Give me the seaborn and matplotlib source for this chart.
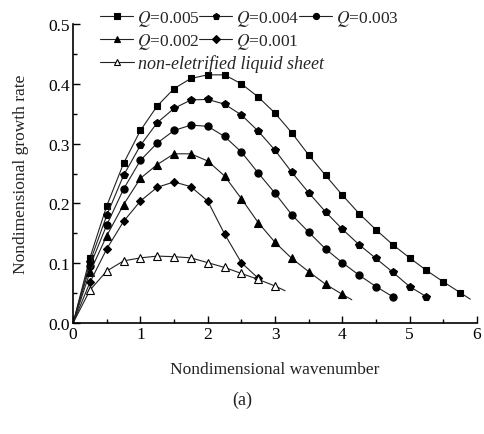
import numpy as np
import pandas as pd
import matplotlib
matplotlib.use("Agg")
import matplotlib.pyplot as plt
from matplotlib.lines import Line2D
from matplotlib.ticker import MultipleLocator, FuncFormatter
import seaborn as sns

# ---- data ----
x_q005 = [0, 0.25, 0.5, 0.75, 1.0, 1.25, 1.5, 1.75, 2.0, 2.25, 2.5, 2.75, 3.0, 3.25, 3.5, 3.75,
          4.0, 4.25, 4.5, 4.75, 5.0, 5.25, 5.5, 5.75, 5.9]
y_q005 = [0, 0.109, 0.196, 0.267, 0.322, 0.363, 0.392, 0.409, 0.415, 0.415, 0.400, 0.378, 0.351,
          0.318, 0.281, 0.247, 0.214, 0.183, 0.156, 0.131, 0.109, 0.088, 0.069, 0.051, 0.040]
x_q004 = [0, 0.25, 0.5, 0.75, 1.0, 1.25, 1.5, 1.75, 2.0, 2.25, 2.5, 2.75, 3.0, 3.25, 3.5, 3.75,
          4.0, 4.25, 4.5, 4.75, 5.0, 5.25]
y_q004 = [0, 0.102, 0.180, 0.247, 0.297, 0.335, 0.359, 0.373, 0.374, 0.366, 0.348, 0.321, 0.289,
          0.252, 0.218, 0.186, 0.157, 0.131, 0.108, 0.085, 0.061, 0.044]
x_q003 = [0, 0.25, 0.5, 0.75, 1.0, 1.25, 1.5, 1.75, 2.0, 2.25, 2.5, 2.75, 3.0, 3.25, 3.5, 3.75,
          4.0, 4.25, 4.5, 4.75]
y_q003 = [0, 0.095, 0.164, 0.224, 0.272, 0.301, 0.322, 0.331, 0.329, 0.312, 0.286, 0.251, 0.217,
          0.181, 0.152, 0.124, 0.101, 0.080, 0.061, 0.044]
x_q002 = [0, 0.25, 0.5, 0.75, 1.0, 1.25, 1.5, 1.75, 2.0, 2.25, 2.5, 2.75, 3.0, 3.25, 3.5, 3.75,
          4.0, 4.14]
y_q002 = [0, 0.085, 0.146, 0.198, 0.242, 0.265, 0.283, 0.283, 0.271, 0.246, 0.208, 0.168, 0.135,
          0.108, 0.086, 0.065, 0.048, 0.039]
x_q001 = [0, 0.25, 0.5, 0.75, 1.0, 1.25, 1.5, 1.75, 2.0, 2.25, 2.5, 2.75]
y_q001 = [0, 0.068, 0.124, 0.170, 0.204, 0.227, 0.236, 0.228, 0.204, 0.149, 0.101, 0.075]
x_none = [0, 0.25, 0.5, 0.75, 1.0, 1.25, 1.5, 1.75, 2.0, 2.25, 2.5, 2.75, 3.0, 3.15]
y_none = [0, 0.055, 0.087, 0.104, 0.109, 0.112, 0.111, 0.109, 0.101, 0.093, 0.083, 0.073, 0.062, 0.054]

labels = [r"$Q$=0.005", r"$Q$=0.004", r"$Q$=0.003", r"$Q$=0.002", r"$Q$=0.001",
          "non-eletrified liquid sheet"]
xlabel = "Nondimensional wavenumber"
ylabel = "Nondimensional growth rate"
panel = "(a)"

sns.set_theme(style="ticks")
plt.rcParams["font.family"] = ["Liberation Serif", "DejaVu Serif"]
plt.rcParams["mathtext.fontset"] = "stix"

fig = plt.figure(figsize=(4.84, 4.35), dpi=100)
ax = fig.add_axes([0.151, 0.255, 0.8345, 0.6875])

series = [
    (x_q005, y_q005, "s", "black", True, 5.0),
    (x_q004, y_q004, "p", "black", False, 5.6),
    (x_q003, y_q003, "o", "black", False, 5.2),
    (x_q002, y_q002, "^", "black", True, 5.6),
    (x_q001, y_q001, "D", "black", False, 4.4),
    (x_none, y_none, "^", "white", True, 5.6),
]

handles = []
for (xs, ys, mk, fc, tail, ms), lab in zip(series, labels):
    df = pd.DataFrame({"k": xs, "g": ys})
    n = len(xs)
    idx = list(range(1, n - 1 if tail else n))
    sns.lineplot(data=df, x="k", y="g", ax=ax, color="#222222", linewidth=0.8,
                 marker=mk, markevery=idx, markersize=ms, markerfacecolor=fc,
                 markeredgecolor="black", markeredgewidth=0.8, sort=False,
                 estimator=None, legend=False)
    handles.append(Line2D([], [], color="#222222", linewidth=0.8, marker=mk,
                          markersize=ms * 0.85, markerfacecolor=fc,
                          markeredgecolor="black", markeredgewidth=0.8, label=lab))

ax.set_xlim(0, 6)
ax.set_ylim(0, 0.5)
ax.xaxis.set_major_locator(MultipleLocator(1))
ax.xaxis.set_minor_locator(MultipleLocator(0.5))
ax.yaxis.set_major_locator(MultipleLocator(0.1))
ax.yaxis.set_minor_locator(MultipleLocator(0.05))
ax.xaxis.set_major_formatter(FuncFormatter(lambda v, p: f"{v:.0f}"))
ax.yaxis.set_major_formatter(FuncFormatter(lambda v, p: f"{v:.1f}"))
ax.tick_params(which="both", direction="in", colors="black", labelsize=12.5, width=1.0, pad=2)
ax.tick_params(which="major", length=5)
ax.tick_params(which="minor", length=3)
for s in ["top", "right"]:
    ax.spines[s].set_visible(False)
for s in ["left", "bottom"]:
    ax.spines[s].set_color("black")
    ax.spines[s].set_linewidth(1.2)

ax.set_xlabel(xlabel, fontsize=12.5, color="#222222", labelpad=14)
ax.set_ylabel(ylabel, fontsize=12.5, color="#222222", labelpad=14)

leg_kw = dict(loc="center left", frameon=False, borderpad=0, borderaxespad=0,
              handlelength=1.9, handletextpad=0.2, columnspacing=0.0)
leg1 = ax.legend(handles=handles[0:3], ncol=3, bbox_to_anchor=(0.067, 1.02),
                 prop={"size": 12.5}, **leg_kw)
ax.add_artist(leg1)
leg2 = ax.legend(handles=handles[3:5], ncol=2, bbox_to_anchor=(0.067, 0.943),
                 prop={"size": 12.5}, **leg_kw)
ax.add_artist(leg2)
leg3 = ax.legend(handles=handles[5:6], ncol=1, bbox_to_anchor=(0.067, 0.870),
                 prop={"style": "italic", "size": 13}, **leg_kw)

fig.text(0.5, 0.08, panel, ha="center", va="center", fontsize=13, color="#222222")

fig.savefig("out.png", dpi=100)
